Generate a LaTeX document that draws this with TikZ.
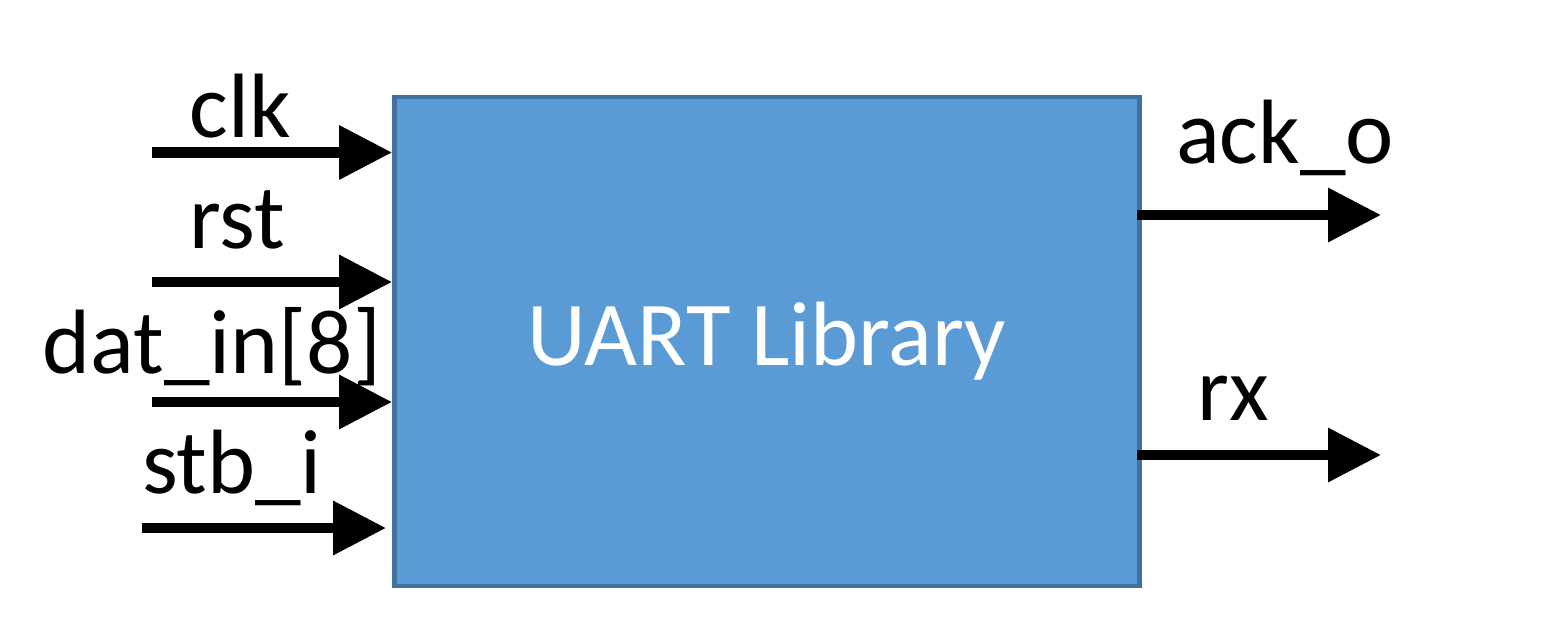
\documentclass[tikz,border=0pt]{standalone}
\usepackage{fontspec}
\setmainfont{Carlito}
\usetikzlibrary{arrows.meta}

\definecolor{blockfill}{RGB}{91,155,213}
\definecolor{blockline}{RGB}{65,113,156}

\begin{document}
\begin{tikzpicture}[
    block/.style={draw=blockline, fill=blockfill, line width=2.8pt, text=white,
      minimum width=14.9cm, minimum height=9.78cm, font=\fontsize{52}{60}\selectfont},
    lbl/.style={anchor=base, inner sep=0pt, font=\fontsize{52}{60}\selectfont},
    sig/.style={line width=5.7pt, -{Triangle[length=1.06cm, width=1.04cm]}}]
    \useasboundingbox (0,0) rectangle (31.12,12.4);

    \node[block] (box) at (15.34,5.57) {UART Library};

    \coordinate (clk) at (3.04,9.35);
    \coordinate (rst) at (3.04,6.76);
    \coordinate (dat) at (3.04,4.36);
    \coordinate (stb) at (2.84,1.84);
    \coordinate (stbend) at (7.72,1.84);
    \coordinate (ack) at (27.62,8.1);
    \coordinate (rx) at (27.62,3.3);

    \node[lbl] (clklbl) at (4.8,9.66) {clk};
    \node[lbl] (rstlbl) at (4.74,7.44) {rst};
    \node[lbl] (datlbl) at (4.24,4.94) {dat\_in[8]};
    \node[lbl] (stblbl) at (4.64,2.54) {stb\_i};
    \node[lbl] (acklbl) at (25.7,9.14) {ack\_o};
    \node[lbl] (rxlbl) at (24.66,4.0) {rx};

    \draw[sig] (clk) -- (clk -| box.west);
    \draw[sig] (rst) -- (rst -| box.west);
    \draw[sig] (dat) -- (dat -| box.west);
    \draw[sig] (stb) -- (stbend);
    \draw[sig] (ack -| box.east) ++(-0.1,0) -- (ack);
    \draw[sig] (rx -| box.east) ++(-0.1,0) -- (rx);
\end{tikzpicture}
\end{document}
